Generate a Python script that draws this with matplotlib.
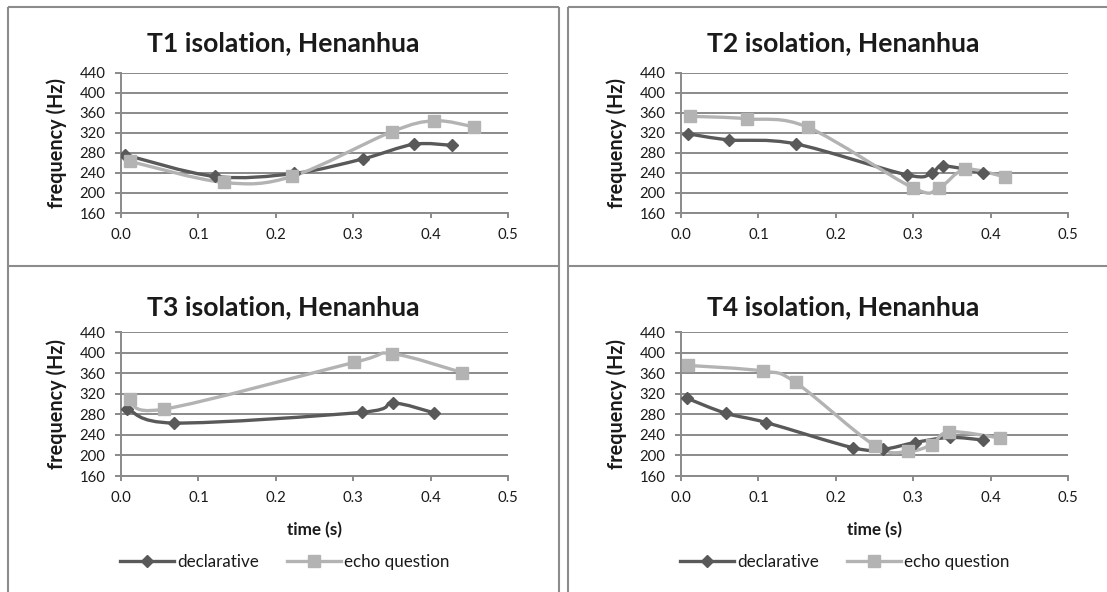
import matplotlib
matplotlib.use("Agg")
import matplotlib.pyplot as plt
from matplotlib.path import Path
from matplotlib.patches import PathPatch
from matplotlib.lines import Line2D
import numpy as np

plt.rcParams['font.family'] = ['Lato', 'DejaVu Sans']

# ---------------- data ----------------
titles = ["T1 isolation, Henanhua", "T2 isolation, Henanhua",
          "T3 isolation, Henanhua", "T4 isolation, Henanhua"]
series_names = ["declarative", "echo question"]

t1_decl_x = [0.0055, 0.121, 0.224, 0.3125, 0.378, 0.428]
t1_decl_y = [276, 233, 239, 268, 297, 295]
t1_echo_x = [0.0115, 0.133, 0.221, 0.3495, 0.405, 0.456]
t1_echo_y = [263, 221, 233, 322, 344, 332]

t2_decl_x = [0.0095, 0.062, 0.148, 0.292, 0.324, 0.339, 0.390]
t2_decl_y = [318, 306, 298, 236, 240, 254, 240]
t2_echo_x = [0.012, 0.0855, 0.164, 0.300, 0.333, 0.367, 0.4185]
t2_echo_y = [353, 348, 331, 210, 210, 247, 232]

t3_decl_x = [0.0083, 0.069, 0.312, 0.351, 0.404]
t3_decl_y = [291, 263, 284, 302, 283]
t3_echo_x = [0.011, 0.0554, 0.3015, 0.3495, 0.441]
t3_echo_y = [310, 290, 381, 398, 361]

t4_decl_x = [0.008, 0.058, 0.110, 0.222, 0.261, 0.302, 0.347, 0.390]
t4_decl_y = [311, 282, 264, 215, 212, 225, 235, 230]
t4_echo_x = [0.0095, 0.1058, 0.148, 0.2505, 0.2936, 0.3238, 0.3466, 0.412]
t4_echo_y = [375, 364, 342, 219, 208, 221, 246, 234]

yticks = [160, 200, 240, 280, 320, 360, 400, 440]
xticks = [0.0, 0.1, 0.2, 0.3, 0.4, 0.5]
xtick_labels = ["0.0", "0.1", "0.2", "0.3", "0.4", "0.5"]
ylabel = "frequency (Hz)"
xlabel = "time (s)"

panels = [
    (t1_decl_x, t1_decl_y, t1_echo_x, t1_echo_y),
    (t2_decl_x, t2_decl_y, t2_echo_x, t2_echo_y),
    (t3_decl_x, t3_decl_y, t3_echo_x, t3_echo_y),
    (t4_decl_x, t4_decl_y, t4_echo_x, t4_echo_y),
]

# ---------------- style ----------------
W, H = 1107, 592
DECL_C = "#595959"
ECHO_C = "#b3b3b3"
GRID_C = "#8a8a8a"
BORDER_C = "#8c8c8c"
TXT_C = "#1a1a1a"

fig = plt.figure(figsize=(W / 100, H / 100), dpi=100)
renderer = fig.canvas.get_renderer()


def fit_size(text, target_px, weight='normal'):
    t = fig.text(0, 0, text, fontsize=10, fontweight=weight)
    w = t.get_window_extent(renderer=renderer).width
    t.remove()
    return 10.0 * target_px / w


TITLE_FS = fit_size(titles[0], 272, 'bold')
YLAB_FS = fit_size(ylabel, 130, 'bold')
XLAB_FS = fit_size(xlabel, 55, 'bold')
TICK_FS = fit_size("440", 26)
LEG_FS = fit_size(series_names[0], 82)


def fx(x):
    return x / W


def fy(y):
    return 1 - y / H


def smooth_path(xs, ys):
    pts = np.column_stack([xs, ys]).astype(float)
    n = len(pts)
    verts = [pts[0]]
    codes = [Path.MOVETO]
    for i in range(n - 1):
        p0 = pts[i - 1] if i > 0 else pts[i]
        p1 = pts[i]
        p2 = pts[i + 1]
        p3 = pts[i + 2] if i + 2 < n else pts[i + 1]
        c1 = p1 + (p2 - p0) / 6.0
        c2 = p2 - (p3 - p1) / 6.0
        verts += [c1, c2, p2]
        codes += [Path.CURVE4] * 3
    return Path(verts, codes)


# axes rectangles in pixels: (left, top, right, bottom)
ax_px = [(121, 72.7, 508, 213), (681, 72.7, 1068, 213),
         (121, 332, 508, 476), (681, 332, 1068, 476)]
title_pos = [(283, 42.7), (843, 42.7), (283, 306.7), (843, 306.7)]
legend_pos = [None, None, (285, 562), (845, 562)]

LW = 2.4
D_MS = 6.0
S_MS = 8.7
for k, (l, t, r, b) in enumerate(ax_px):
    ax = fig.add_axes([fx(l), fy(b), (r - l) / W, (b - t) / H])
    dx, dy, ex, ey = panels[k]
    for xs, ys, col, mk, ms in [(dx, dy, DECL_C, 'D', D_MS),
                                (ex, ey, ECHO_C, 's', S_MS)]:
        patch = PathPatch(smooth_path(xs, ys), facecolor='none', edgecolor=col,
                          lw=LW, capstyle='round', joinstyle='round', zorder=3)
        ax.add_patch(patch)
        ax.plot(xs, ys, linestyle='none', marker=mk, markersize=ms,
                markerfacecolor=col, markeredgecolor=col, zorder=4)

    ax.set_xlim(0, 0.5)
    ax.set_ylim(160, 440)
    ax.set_xticks(xticks)
    ax.set_xticklabels(xtick_labels)
    ax.set_yticks(yticks)
    ax.grid(axis='y', color=GRID_C, lw=1.4)
    ax.set_axisbelow(True)
    for s in ['top', 'right']:
        ax.spines[s].set_visible(False)
    for s in ['left', 'bottom']:
        ax.spines[s].set_color(GRID_C)
        ax.spines[s].set_linewidth(1.4)
    ax.tick_params(axis='y', length=4.3, width=1.4, color=GRID_C, pad=7,
                   labelsize=TICK_FS, labelcolor=TXT_C)
    ax.tick_params(axis='x', length=3.6, width=1.4, color=GRID_C, pad=7,
                   labelsize=TICK_FS, labelcolor=TXT_C)
    ax.set_ylabel(ylabel, fontsize=YLAB_FS, fontweight='bold', color=TXT_C)
    ax.yaxis.set_label_coords(-0.167, 0.5)
    ax.yaxis.label.set_va('center')
    if k >= 2:
        ax.set_xlabel(xlabel, fontsize=XLAB_FS, fontweight='bold', color=TXT_C)
        ax.xaxis.set_label_coords(0.5, -54 / 144)
        ax.xaxis.label.set_va('center')

    tx, ty = title_pos[k]
    fig.text(fx(tx), fy(ty), titles[k], ha='center', va='center',
             fontsize=TITLE_FS, fontweight='bold', color=TXT_C)

    if legend_pos[k] is not None:
        handles = [Line2D([], [], color=DECL_C, lw=LW, marker='D', markersize=D_MS,
                          markerfacecolor=DECL_C, markeredgecolor=DECL_C),
                   Line2D([], [], color=ECHO_C, lw=LW, marker='s', markersize=S_MS,
                          markerfacecolor=ECHO_C, markeredgecolor=ECHO_C)]
        em = LEG_FS * 100 / 72
        lx, ly = legend_pos[k]
        fig.legend(handles, series_names, loc='center',
                   bbox_to_anchor=(fx(lx), fy(ly)), ncol=2, frameon=False,
                   fontsize=LEG_FS, handlelength=54 / em, handletextpad=3 / em,
                   columnspacing=28 / em, labelcolor=TXT_C)

# panel borders
border_lines = [
    ((8, 7), (558.5, 7)), ((567.5, 7), (1107, 7)),
    ((8, 7), (8, 592)), ((558.5, 7), (558.5, 592)), ((567.5, 7), (567.5, 592)),
    ((8, 266), (558.5, 266)), ((567.5, 266), (1107, 266)),
]
for (x0, y0), (x1, y1) in border_lines:
    fig.add_artist(Line2D([fx(x0), fx(x1)], [fy(y0), fy(y1)],
                          transform=fig.transFigure, color=BORDER_C, lw=1.5,
                          solid_capstyle='butt'))

fig.savefig("out.png", dpi=100, facecolor='white')
